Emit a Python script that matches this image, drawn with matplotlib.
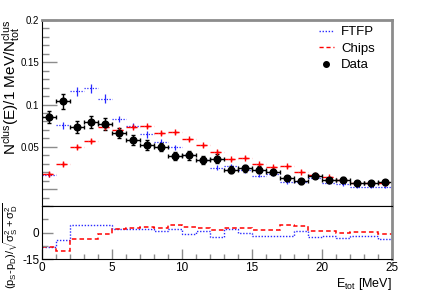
import numpy as np
import matplotlib
matplotlib.use('Agg')
import matplotlib.pyplot as plt
from matplotlib.lines import Line2D
from matplotlib.ticker import MultipleLocator, FixedLocator

plt.rcParams['font.family'] = ['Liberation Sans', 'DejaVu Sans']
plt.rcParams['mathtext.fontset'] = 'custom'
plt.rcParams['mathtext.rm'] = 'Liberation Sans'
plt.rcParams['mathtext.it'] = 'Liberation Sans:italic'

# data: 1 MeV bins from 0 to 25 MeV
bin_edges = np.arange(0, 26, 1)
bin_centres = bin_edges[:-1] + 0.5

data = [0.0857, 0.104, 0.0734, 0.079, 0.077, 0.0667, 0.0583, 0.0524, 0.0496, 0.0393,
        0.040, 0.0345, 0.036, 0.023, 0.0246, 0.023, 0.0202, 0.0127, 0.0091, 0.0159,
        0.0103, 0.011, 0.0071, 0.0067, 0.0083]
data_err = [0.007, 0.009, 0.007, 0.007, 0.007, 0.006, 0.006, 0.006, 0.005, 0.005,
            0.005, 0.005, 0.005, 0.004, 0.004, 0.004, 0.004, 0.003, 0.003, 0.003,
            0.003, 0.003, 0.003, 0.003, 0.003]
chips = [0.018, 0.0298, 0.050, 0.057, 0.0738, 0.0694, 0.0738, 0.0742, 0.0663, 0.067,
         0.059, 0.0516, 0.0437, 0.0353, 0.0373, 0.0294, 0.0258, 0.027, 0.0206, 0.017,
         0.0143, 0.011, 0.0075, 0.0067, 0.0075]
chips_err = [0.002, 0.002, 0.002, 0.002, 0.002, 0.002, 0.002, 0.002, 0.002, 0.002,
             0.002, 0.002, 0.002, 0.002, 0.002, 0.0015, 0.0015, 0.0015, 0.0015, 0.001,
             0.001, 0.001, 0.001, 0.001, 0.001]
ftfp = [0.017, 0.0754, 0.1155, 0.119, 0.107, 0.083, 0.0746, 0.065, 0.056, 0.0492,
        0.040, 0.034, 0.025, 0.027, 0.022, 0.016, 0.0175, 0.0083, 0.008, 0.0135,
        0.0075, 0.0056, 0.0024, 0.0028, 0.0024]
ftfp_err = [0.003, 0.004, 0.005, 0.005, 0.005, 0.004, 0.004, 0.004, 0.003, 0.003,
            0.003, 0.003, 0.003, 0.003, 0.003, 0.002, 0.002, 0.002, 0.002, 0.002,
            0.002, 0.0015, 0.0015, 0.0015, 0.0015]

# pulls (p_S - p_D)/sqrt(sigma_S^2 + sigma_D^2)
ftfp_pull = [-8.3, -4.0, 4.5, 4.5, 4.5, 1.9, 1.9, 1.7, 0.9, 1.7, -0.8, 0.7, -2.7,
             1.9, -0.4, -1.7, -1.7, -1.7, 0.6, -2.7, -1.9, -3.2, -1.9, -1.9, -3.4]
chips_pull = [-8.1, -10.6, -3.4, -3.4, -0.6, 2.0, 2.3, 3.2, 2.4, 4.5, 3.0, 2.8, 1.5,
              2.4, 2.4, 1.5, 1.5, 4.1, 3.4, 0.6, 1.1, 0.0, 0.2, 0.2, -1.1]

blue = '#2a2aff'
red = '#ff0000'
grey = '#8c8c8c'

fig = plt.figure(figsize=(4.36, 2.95), dpi=100)
ax = fig.add_axes([42/436, 1 - 206/295, 350/436, 186/295])
axr = fig.add_axes([42/436, 1 - 259/295, 350/436, 53/295])

# upper panel
eb = ax.errorbar(bin_centres, ftfp, xerr=0.5, yerr=ftfp_err, fmt='none', ecolor=blue, elinewidth=0.9)
eb[2][0].set_linestyle((0, (1, 1.2)))
eb = ax.errorbar(bin_centres, chips, xerr=0.5, yerr=chips_err, fmt='+', color=red, ms=4, mew=1.0,
                 ecolor=red, elinewidth=1.0)
eb[2][0].set_linestyle((0, (3, 2)))
ax.errorbar(bin_centres, data, xerr=0.5, yerr=data_err, fmt='o', color='black', ms=4.8,
            ecolor='black', elinewidth=1.0, capsize=1.2)

ax.set_xlim(0, 25)
ax.set_ylim(-0.02, 0.2)
ax.yaxis.set_major_locator(FixedLocator([0, 0.05, 0.1, 0.15, 0.2]))
ax.yaxis.set_minor_locator(MultipleLocator(0.01))
ax.set_yticklabels(['', '0.05', '0.1', '0.15', '0.2'])
ax.tick_params(axis='y', which='both', direction='in', color=grey, labelsize=7, pad=2)
ax.tick_params(axis='y', which='major', length=11, width=1)
ax.tick_params(axis='y', which='minor', length=5, width=1)
ax.tick_params(axis='x', which='both', bottom=False, labelbottom=False)
for s in ['top', 'right']:
    ax.spines[s].set_color(grey)
    ax.spines[s].set_linewidth(2)
ax.spines['left'].set_color('black')
ax.spines['bottom'].set_color('black')

ax.set_ylabel(r'$\mathregular{N^{clus}(E)/1\ MeV/N^{clus}_{tot}}$', fontsize=11, loc='top')
ax.yaxis.set_label_coords(-0.058, 1.0)

handles = [Line2D([], [], color=blue, lw=1, linestyle=(0, (1, 1.2))),
           Line2D([], [], color=red, lw=1, linestyle=(0, (3, 2))),
           Line2D([], [], color='black', marker='o', ms=4, linestyle='none')]
ax.legend(handles, ['FTFP', 'Chips', 'Data'], loc='upper left', bbox_to_anchor=(0.775, 0.995),
          frameon=False, fontsize=9.5, handlelength=1.2, handletextpad=0.5, labelspacing=0.32,
          borderaxespad=0)

# lower panel
axr.stairs(ftfp_pull, bin_edges, baseline=None, color=blue, lw=1, linestyle=(0, (1, 1.2)))
axr.stairs(chips_pull, bin_edges, baseline=None, color=red, lw=1.1, linestyle=(0, (3, 2)))
axr.set_xlim(0, 25)
axr.set_ylim(-15, 15)
axr.yaxis.set_major_locator(FixedLocator([-15, 0, 15]))
axr.yaxis.set_minor_locator(FixedLocator([-7.5, 7.5]))
axr.set_yticklabels(['-15', '0', ''])
axr.xaxis.set_major_locator(MultipleLocator(5))
axr.xaxis.set_minor_locator(MultipleLocator(1))
axr.tick_params(axis='both', which='both', direction='in', color=grey, labelsize=8.5)
axr.tick_params(axis='y', which='major', length=8, width=1, pad=2)
axr.tick_params(axis='y', which='minor', length=4, width=1)
axr.tick_params(axis='x', which='major', length=7, width=1, pad=2)
axr.tick_params(axis='x', which='minor', length=3.5, width=1)
axr.spines['right'].set_color(grey)
axr.spines['right'].set_linewidth(2)
axr.spines['top'].set_color('black')

axr.set_ylabel(r'(p$_\mathregular{S}$-p$_\mathregular{D}$)/$\mathregular{\sqrt{\sigma_{S}^{2}+\sigma_{D}^{2}}}$',
               fontsize=8, loc='top')
axr.yaxis.set_label_coords(-0.062, 1.08)
axr.set_xlabel(r'$\mathregular{E_{tot}\ [MeV]}$', fontsize=9, loc='right')
axr.xaxis.set_label_coords(1.0, -0.32)

fig.savefig('out.png', dpi=100)
